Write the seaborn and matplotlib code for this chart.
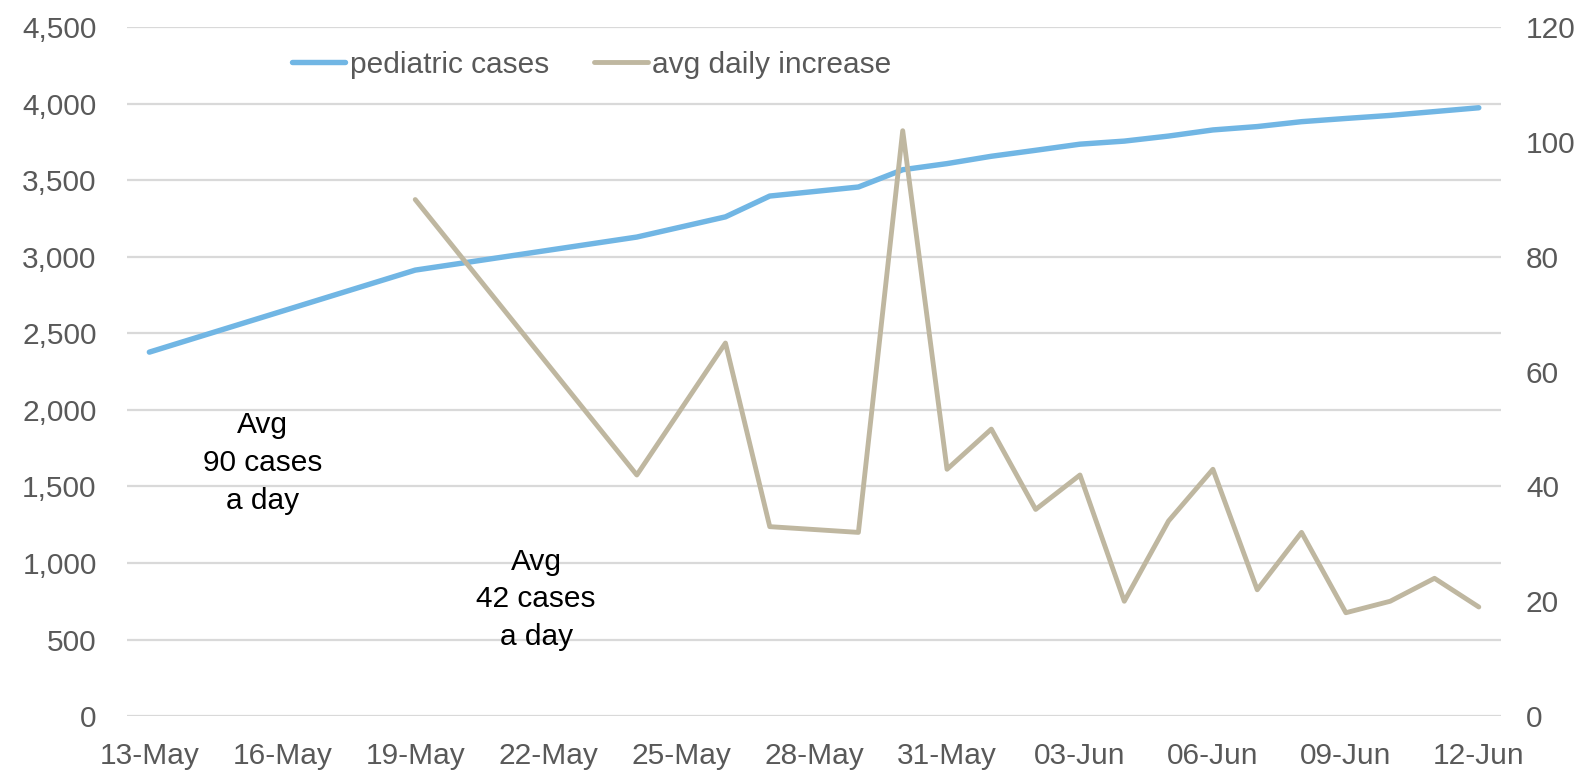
import matplotlib
matplotlib.use("Agg")
import matplotlib.pyplot as plt
import matplotlib.dates as mdates
import seaborn as sns
import pandas as pd

# ---- data ----
case_dates = ["2020-05-13", "2020-05-19", "2020-05-24", "2020-05-26", "2020-05-27",
              "2020-05-29", "2020-05-30", "2020-05-31", "2020-06-01", "2020-06-02",
              "2020-06-03", "2020-06-04", "2020-06-05", "2020-06-06", "2020-06-07",
              "2020-06-08", "2020-06-09", "2020-06-10", "2020-06-11", "2020-06-12"]
pediatric_cases = [2378, 2914, 3130, 3262, 3398, 3457, 3570, 3610, 3658, 3697,
                   3737, 3757, 3790, 3830, 3852, 3884, 3905, 3925, 3950, 3975]

incr_dates = case_dates[1:]
avg_daily_increase = [90, 42, 65, 33, 32, 102, 43, 50, 36, 42,
                      20, 34, 43, 22, 32, 18, 20, 24, 19]

left_ticks = [0, 500, 1000, 1500, 2000, 2500, 3000, 3500, 4000, 4500]
right_ticks = [0, 20, 40, 60, 80, 100, 120]
note1 = "Avg\n90 cases\na day"
note2 = "Avg\n42 cases\na day"

df1 = pd.DataFrame({"date": pd.to_datetime(case_dates), "cases": pediatric_cases})
df2 = pd.DataFrame({"date": pd.to_datetime(incr_dates), "incr": avg_daily_increase})

sns.set_style("white")
plt.rcParams["font.family"] = ["Liberation Sans", "DejaVu Sans"]

BLUE = "#71b6e4"
TAN = "#bfb7a0"
GRAY = "#595959"

fig = plt.figure(figsize=(15.9, 7.7), dpi=100)
ax = fig.add_axes([0.080, 0.0701, 0.864, 0.8943])
ax2 = ax.twinx()

sns.lineplot(data=df1, x="date", y="cases", ax=ax, color=BLUE, linewidth=3.9,
             label="pediatric cases", legend=False)
sns.lineplot(data=df2, x="date", y="incr", ax=ax2, color=TAN, linewidth=3.5,
             label="avg daily increase", legend=False)

start = pd.Timestamp(case_dates[0])
end = pd.Timestamp(case_dates[-1])
ax.set_xlim(start - pd.Timedelta(hours=12), end + pd.Timedelta(hours=12))
ax.set_ylim(0, 4500)
ax2.set_ylim(0, 120)
ax.set_yticks(left_ticks)
ax.set_yticklabels([f"{v:,}" for v in left_ticks])
ax2.set_yticks(right_ticks)
ax.set_xticks(pd.date_range(start, end, freq="3D"))
ax.xaxis.set_major_formatter(mdates.DateFormatter("%d-%b"))

ax.grid(axis="y", color="#d9d9d9", linewidth=1.6)
ax.set_axisbelow(True)
for a in (ax, ax2):
    for s in a.spines.values():
        s.set_visible(False)
    a.set_xlabel("")
    a.set_ylabel("")
    a.tick_params(length=0, labelsize=21.5, colors=GRAY)
ax.tick_params(axis="y", pad=22)
ax2.tick_params(axis="y", pad=18)
ax.tick_params(axis="x", pad=19)

ax.text(pd.Timestamp("2020-05-15 13:30"), 1655, note1, ha="center", va="center",
        fontsize=21.5, color="black", linespacing=1.45)
ax.text(pd.Timestamp("2020-05-21 17:30"), 762, note2, ha="center", va="center",
        fontsize=21.5, color="black", linespacing=1.45)

h1, l1 = ax.get_legend_handles_labels()
h2, l2 = ax2.get_legend_handles_labels()
fig.legend(h1 + h2, l1 + l2, loc="center", bbox_to_anchor=(0.372, 0.916), ncol=2,
           frameon=False, fontsize=21.5, handlelength=1.8, columnspacing=1.5,
           handletextpad=0.15, labelcolor=GRAY)

fig.savefig("out.png", dpi=100)
